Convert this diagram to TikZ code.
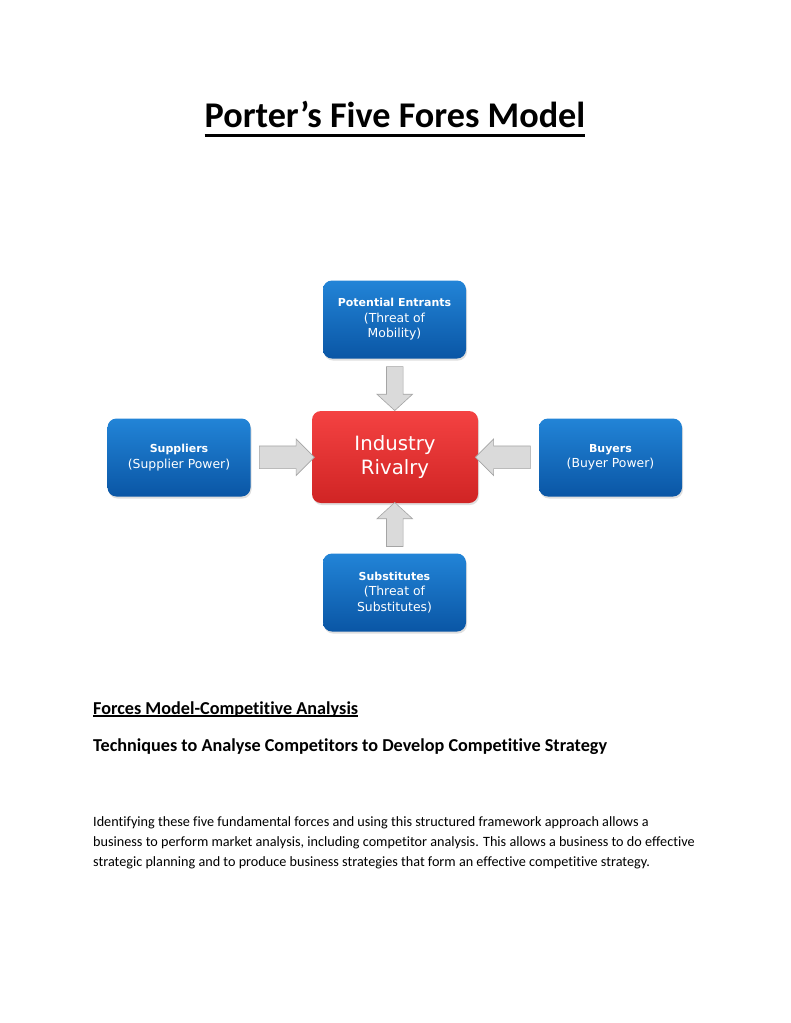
\documentclass[tikz,border=0pt]{standalone}
\usepackage{fontspec}
\setmainfont{Carlito}[Ligatures=NoCommon]
\newfontfamily\boxFamily{DejaVu Sans}
\usetikzlibrary{calc,shapes.arrows,shadows}
\definecolor{forceTop}{RGB}{34,132,215}
\definecolor{forceBottom}{RGB}{10,86,165}
\definecolor{rivalTop}{RGB}{244,66,66}
\definecolor{rivalBottom}{RGB}{208,36,36}
\definecolor{pushFill}{RGB}{218,218,218}
\definecolor{pushLine}{RGB}{165,165,165}
\newcommand{\titleFont}{\fontsize{36.2}{44}\selectfont\bfseries}
\newcommand{\headFont}{\fontsize{18.2}{22}\selectfont\bfseries}
\newcommand{\bodyFont}{\fontsize{14.2}{20}\selectfont}
\newcommand{\boxBold}{\fontsize{11}{15.5}\selectfont\bfseries}
\newcommand{\boxPlain}{\boxFamily\fontsize{12.4}{15.5}\selectfont}
\newcommand{\underText}[3]{\setbox0\hbox{#1}\rlap{\rule[-#2]{\wd0}{#3}}\box0}

\tikzset{
  force/.style={rounded corners=9pt, top color=forceTop, bottom color=forceBottom,
    text=white, align=center, font=\boxPlain,
    minimum width=143pt, minimum height=78pt,
    drop shadow={opacity=0.25, shadow xshift=1pt, shadow yshift=-2pt}},
  rival/.style={force, top color=rivalTop, bottom color=rivalBottom,
    minimum width=166pt, minimum height=92pt, font=\boxFamily\fontsize{19.7}{24}\selectfont},
  push/.style={single arrow, draw=pushLine, fill=pushFill, line width=0.6pt,
    text width=0pt, text height=0pt, text depth=0pt, inner xsep=0pt},
  pushSide/.style={push, inner ysep=11pt, minimum height=55pt,
    single arrow head extend=7pt, single arrow tip angle=90},
  pushUpDown/.style={push, inner ysep=8pt, minimum height=44pt,
    single arrow head extend=9.5pt, single arrow tip angle=95}
}

\begin{document}
\begin{tikzpicture}[x=1pt,y=-1pt]
  \useasboundingbox (0,0) rectangle (791,1023);
  \fill[white] (0,0) rectangle (791,1023);

  \node[anchor=base] (title) at (395,127)
    {\titleFont\underText{Porter’s Five Fores Model}{9.5pt}{2.6pt}};

  \node[force] (entr) at (394.5,319.5)
    {{\boxBold Potential Entrants}\\(Threat of\\Mobility)};
  \node[rival] (rival) at (395,457) {Industry\\Rivalry};
  \node[force] (sup) at (179,457.5)
    {{\boxBold Suppliers}\\(Supplier Power)};
  \node[force] (buy) at (610.5,457.5)
    {{\boxBold Buyers}\\(Buyer Power)};
  \node[force] (subs) at (394.5,592.5)
    {{\boxBold Substitutes}\\(Threat of\\Substitutes)};

  \node[pushUpDown, rotate=-90] (entrPush) at ($(entr.south)!0.5!(rival.north)$) {};
  \node[pushUpDown, rotate=90] (subsPush) at ($(subs.north)!0.5!(rival.south)$) {};
  \node[pushSide] (supPush) at ($(sup.east)!0.5!(rival.west)$) {};
  \node[pushSide, rotate=180] (buyPush) at ($(buy.west)!0.5!(rival.east)$) {};

  \node[anchor=base west, inner sep=0pt] (forcesHead) at (93,714)
    {\headFont\underText{Forces Model-Competitive Analysis}{2.6pt}{1.4pt}};
  \node[anchor=base west, inner sep=0pt] (techHead) at (93,751)
    {\headFont Techniques to Analyse Competitors to Develop Competitive Strategy};

  \node[anchor=base west, align=left, inner sep=0pt, font=\bodyFont] (body) at (93,866)
    {Identifying these five fundamental forces and using this structured framework approach allows a\\
     business to perform market analysis, including competitor analysis. This allows a business to do effective\\
     strategic planning and to produce business strategies that form an effective competitive strategy.};
\end{tikzpicture}
\end{document}
